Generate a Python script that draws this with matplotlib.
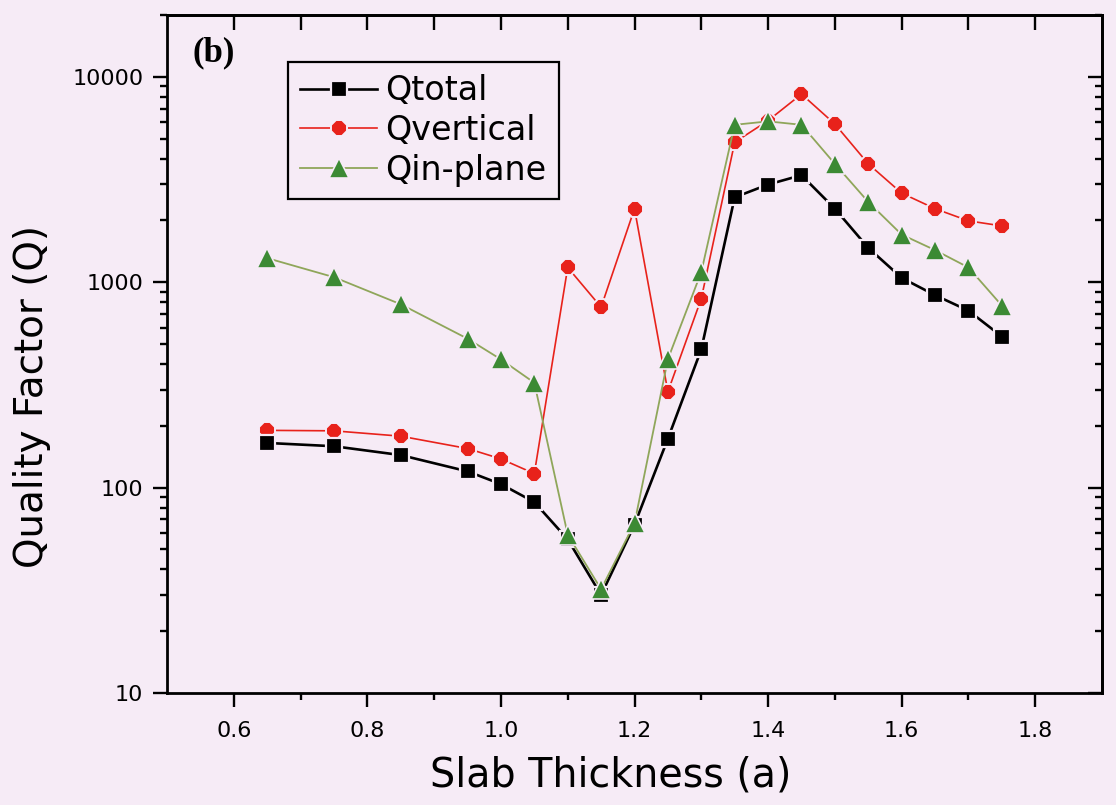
import matplotlib
matplotlib.use("Agg")
import matplotlib.pyplot as plt
from matplotlib.ticker import FixedLocator, LogLocator, NullFormatter, FixedFormatter

# ---- data ----
slab_thickness = [0.65, 0.75, 0.85, 0.95, 1.00, 1.05, 1.10, 1.15, 1.20, 1.25,
                  1.30, 1.35, 1.40, 1.45, 1.50, 1.55, 1.60, 1.65, 1.70, 1.75]
q_total = [165, 159, 144, 120, 104, 85, 56, 30, 66, 173,
           471, 2590, 2990, 3320, 2280, 1470, 1050, 865, 727, 544]
q_vertical = [190, 189, 178, 155, 138, 117, 1180, 756, 2280, 293,
              832, 4800, 6120, 8240, 5890, 3770, 2715, 2280, 1990, 1880]
q_inplane = [1310, 1058, 781, 531, 421, 324, 59, 32, 67, 422,
             1121, 5840, 6070, 5840, 3770, 2460, 1706, 1433, 1180, 770]
series_labels = ["Qtotal", "Qvertical", "Qin-plane"]
x_ticks = [0.6, 0.8, 1.0, 1.2, 1.4, 1.6, 1.8]
x_tick_labels = ["0.6", "0.8", "1.0", "1.2", "1.4", "1.6", "1.8"]
y_ticks = [10, 100, 1000, 10000]
y_tick_labels = ["10", "100", "1000", "10000"]

BG = "#f6ebf6"
FONT = "DejaVu Sans"
TICKFS = 16

fig = plt.figure(figsize=(11.16, 8.05), dpi=100, facecolor=BG)
ax = fig.add_axes([167/1116, 1-693/805, 935/1116, 678/805], facecolor=BG)

ax.plot(slab_thickness, q_total, color="black", lw=1.9, marker="s", ms=11,
        mfc="black", mec=BG, mew=1.6, label=series_labels[0], zorder=3)
ax.plot(slab_thickness, q_vertical, color="#e8221b", lw=1.2, marker="8", ms=12.5,
        mfc="#e8221b", mec=BG, mew=1.4, label=series_labels[1], zorder=2)
ax.plot(slab_thickness, q_inplane, color="#8fa65a", lw=1.3, marker="^", ms=14,
        mfc="#3c8a34", mec=BG, mew=1.2, label=series_labels[2], zorder=4)

ax.set_yscale("log")
ax.set_xlim(0.5, 1.9)
ax.set_ylim(10, 20000)

for s in ax.spines.values():
    s.set_linewidth(2.0)

# x axis (bottom)
ax.xaxis.set_major_locator(FixedLocator(x_ticks))
ax.xaxis.set_major_formatter(FixedFormatter(x_tick_labels))
ax.xaxis.set_minor_locator(FixedLocator([0.7, 0.9, 1.1, 1.3, 1.5, 1.7]))
ax.tick_params(axis="x", which="major", direction="out", length=10, width=1.7,
               pad=10, bottom=True, top=False)
ax.tick_params(axis="x", which="minor", direction="out", length=5, width=1.7,
               bottom=True, top=False)

# y axis (left)
ax.yaxis.set_major_locator(FixedLocator(y_ticks))
ax.yaxis.set_major_formatter(FixedFormatter(y_tick_labels))
ax.yaxis.set_minor_locator(LogLocator(base=10, subs=range(2, 10)))
ax.yaxis.set_minor_formatter(NullFormatter())
ax.tick_params(axis="y", which="major", direction="out", length=10, width=1.7,
               pad=7, left=True, right=False)
ax.tick_params(axis="y", which="minor", direction="out", length=5, width=1.7,
               left=True, right=False)

for lab in ax.get_xticklabels() + ax.get_yticklabels():
    lab.set_fontfamily(FONT)
    lab.set_fontsize(TICKFS)

# top ticks (inward, every 0.1)
top = ax.secondary_xaxis("top")
top.set_xticks([0.6, 0.7, 0.8, 0.9, 1.0, 1.1, 1.2, 1.3, 1.4, 1.5, 1.6, 1.7, 1.8])
top.tick_params(direction="in", length=11, width=1.7, labeltop=False)
top.spines["top"].set_linewidth(2.0)

# right ticks (inward)
right = ax.secondary_yaxis("right")
right.yaxis.set_major_locator(FixedLocator(y_ticks))
right.yaxis.set_minor_locator(LogLocator(base=10, subs=range(2, 10)))
right.tick_params(which="major", direction="in", length=10, width=1.7, labelright=False)
right.tick_params(which="minor", direction="in", length=5, width=1.7, labelright=False)
right.yaxis.set_major_formatter(NullFormatter())
right.yaxis.set_minor_formatter(NullFormatter())
right.spines["right"].set_linewidth(2.0)

ax.set_xlabel("Slab Thickness (a)", fontsize=28.5, family=FONT)
ax.xaxis.set_label_coords(0.474, -0.121)
ax.xaxis.label.set_va("center")
ax.set_ylabel("Quality Factor (Q)", fontsize=28, family=FONT)
ax.yaxis.set_label_coords(-0.144, 0.437)
ax.yaxis.label.set_va("center")

ax.text(0.027, 0.944, "(b)", transform=ax.transAxes, fontsize=25,
        fontweight="bold", family="Liberation Serif", va="center", ha="left")

leg = ax.legend(loc="upper left", bbox_to_anchor=(0.129, 0.931), borderaxespad=0,
                prop={"family": FONT, "size": 24}, frameon=True, fancybox=False,
                handlelength=2.3, handletextpad=0.25, labelspacing=0.2,
                borderpad=0.38, facecolor=BG, framealpha=1, edgecolor="black")
leg.get_frame().set_linewidth(1.6)

fig.savefig("out.png", dpi=100, facecolor=BG)
